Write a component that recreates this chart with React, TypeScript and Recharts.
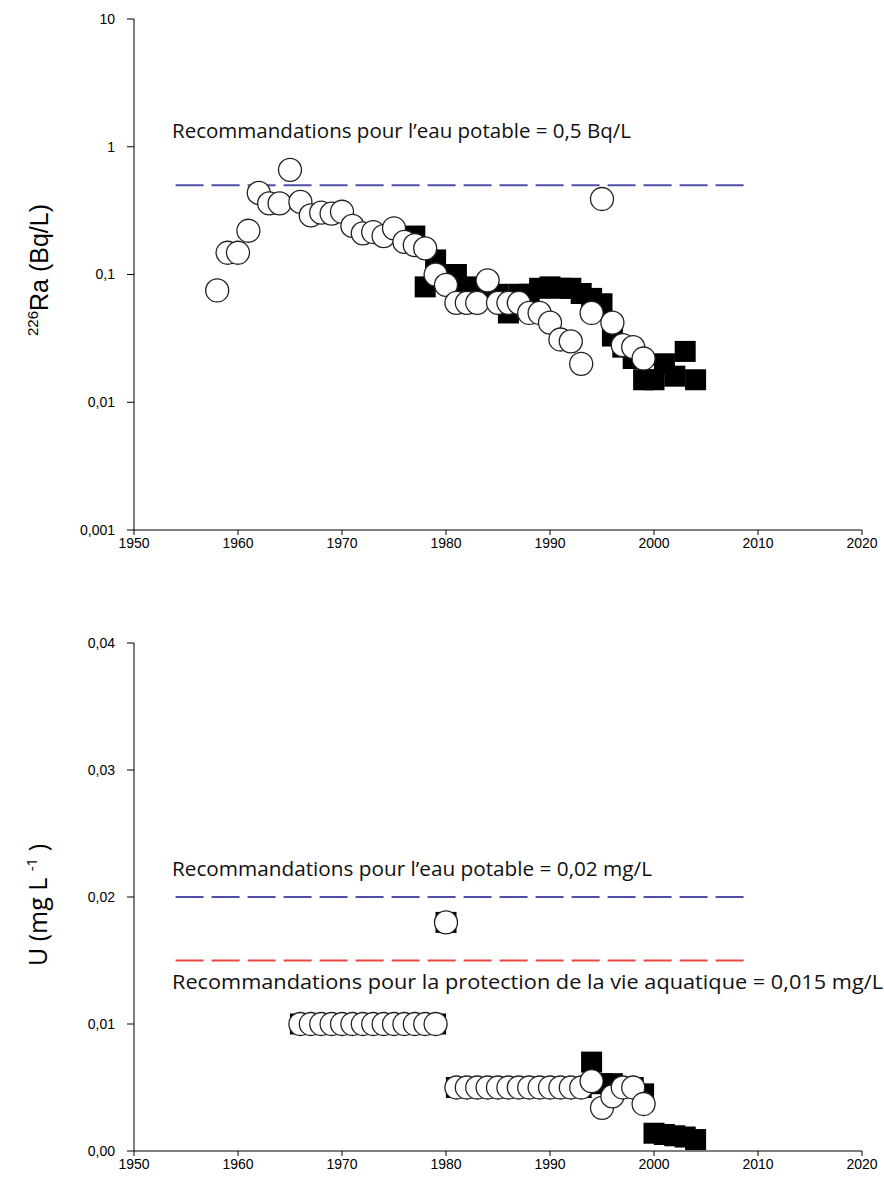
import React from "react";
import {
  ReferenceLine,
  Scatter,
  ScatterChart,
  XAxis,
  YAxis,
} from "recharts";

// 226Ra, open circles
const raCircleYears = [
  1958, 1959, 1960, 1961, 1962, 1963, 1964, 1965, 1966, 1967, 1968, 1969, 1970, 1971,
  1972, 1973, 1974, 1975, 1976, 1977, 1978, 1979, 1980, 1981, 1982, 1983, 1984, 1985,
  1986, 1987, 1988, 1989, 1990, 1991, 1992, 1993, 1994, 1995, 1996, 1997, 1998, 1999,
];
const raCircleValues = [
  0.075, 0.148, 0.148, 0.22, 0.435, 0.36, 0.36, 0.66, 0.37, 0.29, 0.305, 0.3, 0.31, 0.24,
  0.21, 0.215, 0.2, 0.23, 0.18, 0.17, 0.16, 0.1, 0.083, 0.06, 0.06, 0.06, 0.09, 0.06,
  0.06, 0.06, 0.05, 0.05, 0.042, 0.031, 0.03, 0.02, 0.05, 0.39, 0.042, 0.028, 0.027, 0.022,
];

// 226Ra, filled squares
const raSquareYears = [
  1977, 1978, 1979, 1980, 1981, 1982, 1983, 1984, 1985, 1986, 1987, 1988, 1989, 1990,
  1991, 1992, 1993, 1994, 1995, 1996, 1997, 1998, 1999, 2000, 2001, 2002, 2003, 2004,
];
const raSquareValues = [
  0.2, 0.08, 0.13, 0.1, 0.1, 0.08, 0.075, 0.07, 0.07, 0.05, 0.07, 0.07, 0.078, 0.08,
  0.078, 0.078, 0.071, 0.065, 0.059, 0.033, 0.027, 0.022, 0.015, 0.015, 0.02, 0.016, 0.025, 0.015,
];

// U, open circles
const uCircleYears = [
  1966, 1967, 1968, 1969, 1970, 1971, 1972, 1973, 1974, 1975, 1976, 1977, 1978, 1979,
  1980, 1981, 1982, 1983, 1984, 1985, 1986, 1987, 1988, 1989, 1990, 1991, 1992, 1993,
  1994, 1995, 1996, 1997, 1998, 1999,
];
const uCircleValues = [
  0.01, 0.01, 0.01, 0.01, 0.01, 0.01, 0.01, 0.01, 0.01, 0.01, 0.01, 0.01, 0.01, 0.01,
  0.018, 0.005, 0.005, 0.005, 0.005, 0.005, 0.005, 0.005, 0.005, 0.005, 0.005, 0.005, 0.005, 0.005,
  0.0055, 0.0034, 0.0043, 0.005, 0.005, 0.0037,
];

// U, filled squares
const uSquareYears = [
  1966, 1967, 1968, 1969, 1970, 1971, 1972, 1973, 1974, 1975, 1976, 1977, 1978, 1979,
  1980, 1981, 1982, 1983, 1984, 1985, 1986, 1987, 1988, 1989, 1990, 1991, 1992, 1993,
  1994, 1995, 1996, 1997, 1998, 1999, 2000, 2001, 2002, 2003, 2004,
];
const uSquareValues = [
  0.01, 0.01, 0.01, 0.01, 0.01, 0.01, 0.01, 0.01, 0.01, 0.01, 0.01, 0.01, 0.01, 0.01,
  0.018, 0.005, 0.005, 0.005, 0.005, 0.005, 0.005, 0.005, 0.005, 0.005, 0.005, 0.005, 0.005, 0.005,
  0.007, 0.0053, 0.0053, 0.005, 0.005, 0.0045, 0.0014, 0.0013, 0.0012, 0.0011, 0.0009,
];

const yearTicks = [1950, 1960, 1970, 1980, 1990, 2000, 2010, 2020];
const raTicks = [0.001, 0.01, 0.1, 1, 10];
const uTicks = [0, 0.01, 0.02, 0.03, 0.04];

// guideline values and their x extent
const guideStart = 1954;
const guideEnd = 2009.2;
const raDrinking = 0.5;
const uDrinking = 0.02;
const uAquatic = 0.015;

const toPoints = (xs: number[], ys: number[]) => xs.map((x, i) => ({ x, y: ys[i] }));

const tickFont = { fill: "#000", fontSize: 14, fontFamily: "'Liberation Sans', Arial, sans-serif" };
const comma = (v: number) => String(v).replace(".", ",");
const commaFixed = (v: number) => v.toFixed(2).replace(".", ",");

const Circle = (props: any) => (
  <circle cx={props.cx} cy={props.cy} r={11.5} fill="#fff" stroke="#222" strokeWidth={1.3} />
);
const Square = (props: any) => (
  <rect x={props.cx - 10.5} y={props.cy - 10.5} width={21} height={21} fill="#000" />
);

const axisProps = {
  axisLine: { stroke: "#000" },
  tickLine: { stroke: "#000" },
  tick: tickFont,
};

export default function App() {
  return (
    <div style={{ position: "absolute", left: 0, top: 0, width: 884, height: 1190, background: "#fff" }}>
      <div style={{ position: "absolute", left: 0, top: 0 }}>
        <ScatterChart width={884} height={580} margin={{ top: 19, right: 22, bottom: 0, left: 0 }}>
          <XAxis
            type="number"
            dataKey="x"
            domain={[1950, 2020]}
            ticks={yearTicks}
            height={50}
            tickSize={5}
            tickMargin={3}
            {...axisProps}
          />
          <YAxis
            type="number"
            dataKey="y"
            scale="log"
            domain={[0.001, 10]}
            ticks={raTicks}
            allowDataOverflow
            width={134}
            tickSize={7}
            tickMargin={12}
            tickFormatter={comma}
            {...axisProps}
          />
          <ReferenceLine
            segment={[{ x: guideStart, y: raDrinking }, { x: guideEnd, y: raDrinking }]}
            stroke="#4f4fa8"
            strokeWidth={2}
            strokeDasharray="28 8"
          />
          <Scatter data={toPoints(raSquareYears, raSquareValues)} shape={Square} isAnimationActive={false} />
          <Scatter data={toPoints(raCircleYears, raCircleValues)} shape={Circle} isAnimationActive={false} />
        </ScatterChart>
      </div>
      <div style={{ position: "absolute", left: 0, top: 600 }}>
        <ScatterChart width={884} height={600} margin={{ top: 43, right: 22, bottom: 0, left: 0 }}>
          <XAxis
            type="number"
            dataKey="x"
            domain={[1950, 2020]}
            ticks={yearTicks}
            height={49}
            tickSize={5}
            tickMargin={3}
            {...axisProps}
          />
          <YAxis
            type="number"
            dataKey="y"
            domain={[0, 0.04]}
            ticks={uTicks}
            width={134}
            tickSize={7}
            tickMargin={12}
            tickFormatter={commaFixed}
            {...axisProps}
          />
          <ReferenceLine
            segment={[{ x: guideStart, y: uDrinking }, { x: guideEnd, y: uDrinking }]}
            stroke="#4f4fa8"
            strokeWidth={2}
            strokeDasharray="28 8"
          />
          <ReferenceLine
            segment={[{ x: guideStart, y: uAquatic }, { x: guideEnd, y: uAquatic }]}
            stroke="#e8463f"
            strokeWidth={2}
            strokeDasharray="28 8"
          />
          <Scatter data={toPoints(uSquareYears, uSquareValues)} shape={Square} isAnimationActive={false} />
          <Scatter data={toPoints(uCircleYears, uCircleValues)} shape={Circle} isAnimationActive={false} />
        </ScatterChart>
      </div>
      {/* titles and guideline captions */}
      <svg width={884} height={1190} style={{ position: "absolute", left: 0, top: 0, pointerEvents: "none" }}>
        <g fontFamily="'Open Sans', 'Noto Sans', sans-serif" fontSize={20} fill="#111">
          <text x={172} y={138} textLength={459} lengthAdjust="spacingAndGlyphs">
            Recommandations pour l’eau potable = 0,5 Bq/L
          </text>
          <text x={172} y={876} textLength={480} lengthAdjust="spacingAndGlyphs">
            Recommandations pour l’eau potable = 0,02 mg/L
          </text>
          <text x={172} y={989} textLength={711} lengthAdjust="spacingAndGlyphs">
            Recommandations pour la protection de la vie aquatique = 0,015 mg/L
          </text>
        </g>
        <text
          transform="translate(48,270) rotate(-90)"
          textAnchor="middle"
          fontFamily="'Liberation Sans', Arial, sans-serif"
          fontSize={25}
          fill="#000"
        >
          <tspan fontSize={15} dy={-10}>226</tspan>
          <tspan dy={10}>Ra (Bq/L)</tspan>
        </text>
        <text
          transform="translate(47,905) rotate(-90)"
          textAnchor="middle"
          fontFamily="'Open Sans', 'Noto Sans', sans-serif"
          fontSize={25}
          fill="#000"
        >
          <tspan>U (mg L </tspan>
          <tspan fontSize={15} dy={-10}>-1</tspan>
          <tspan dy={10}> )</tspan>
        </text>
      </svg>
    </div>
  );
}
